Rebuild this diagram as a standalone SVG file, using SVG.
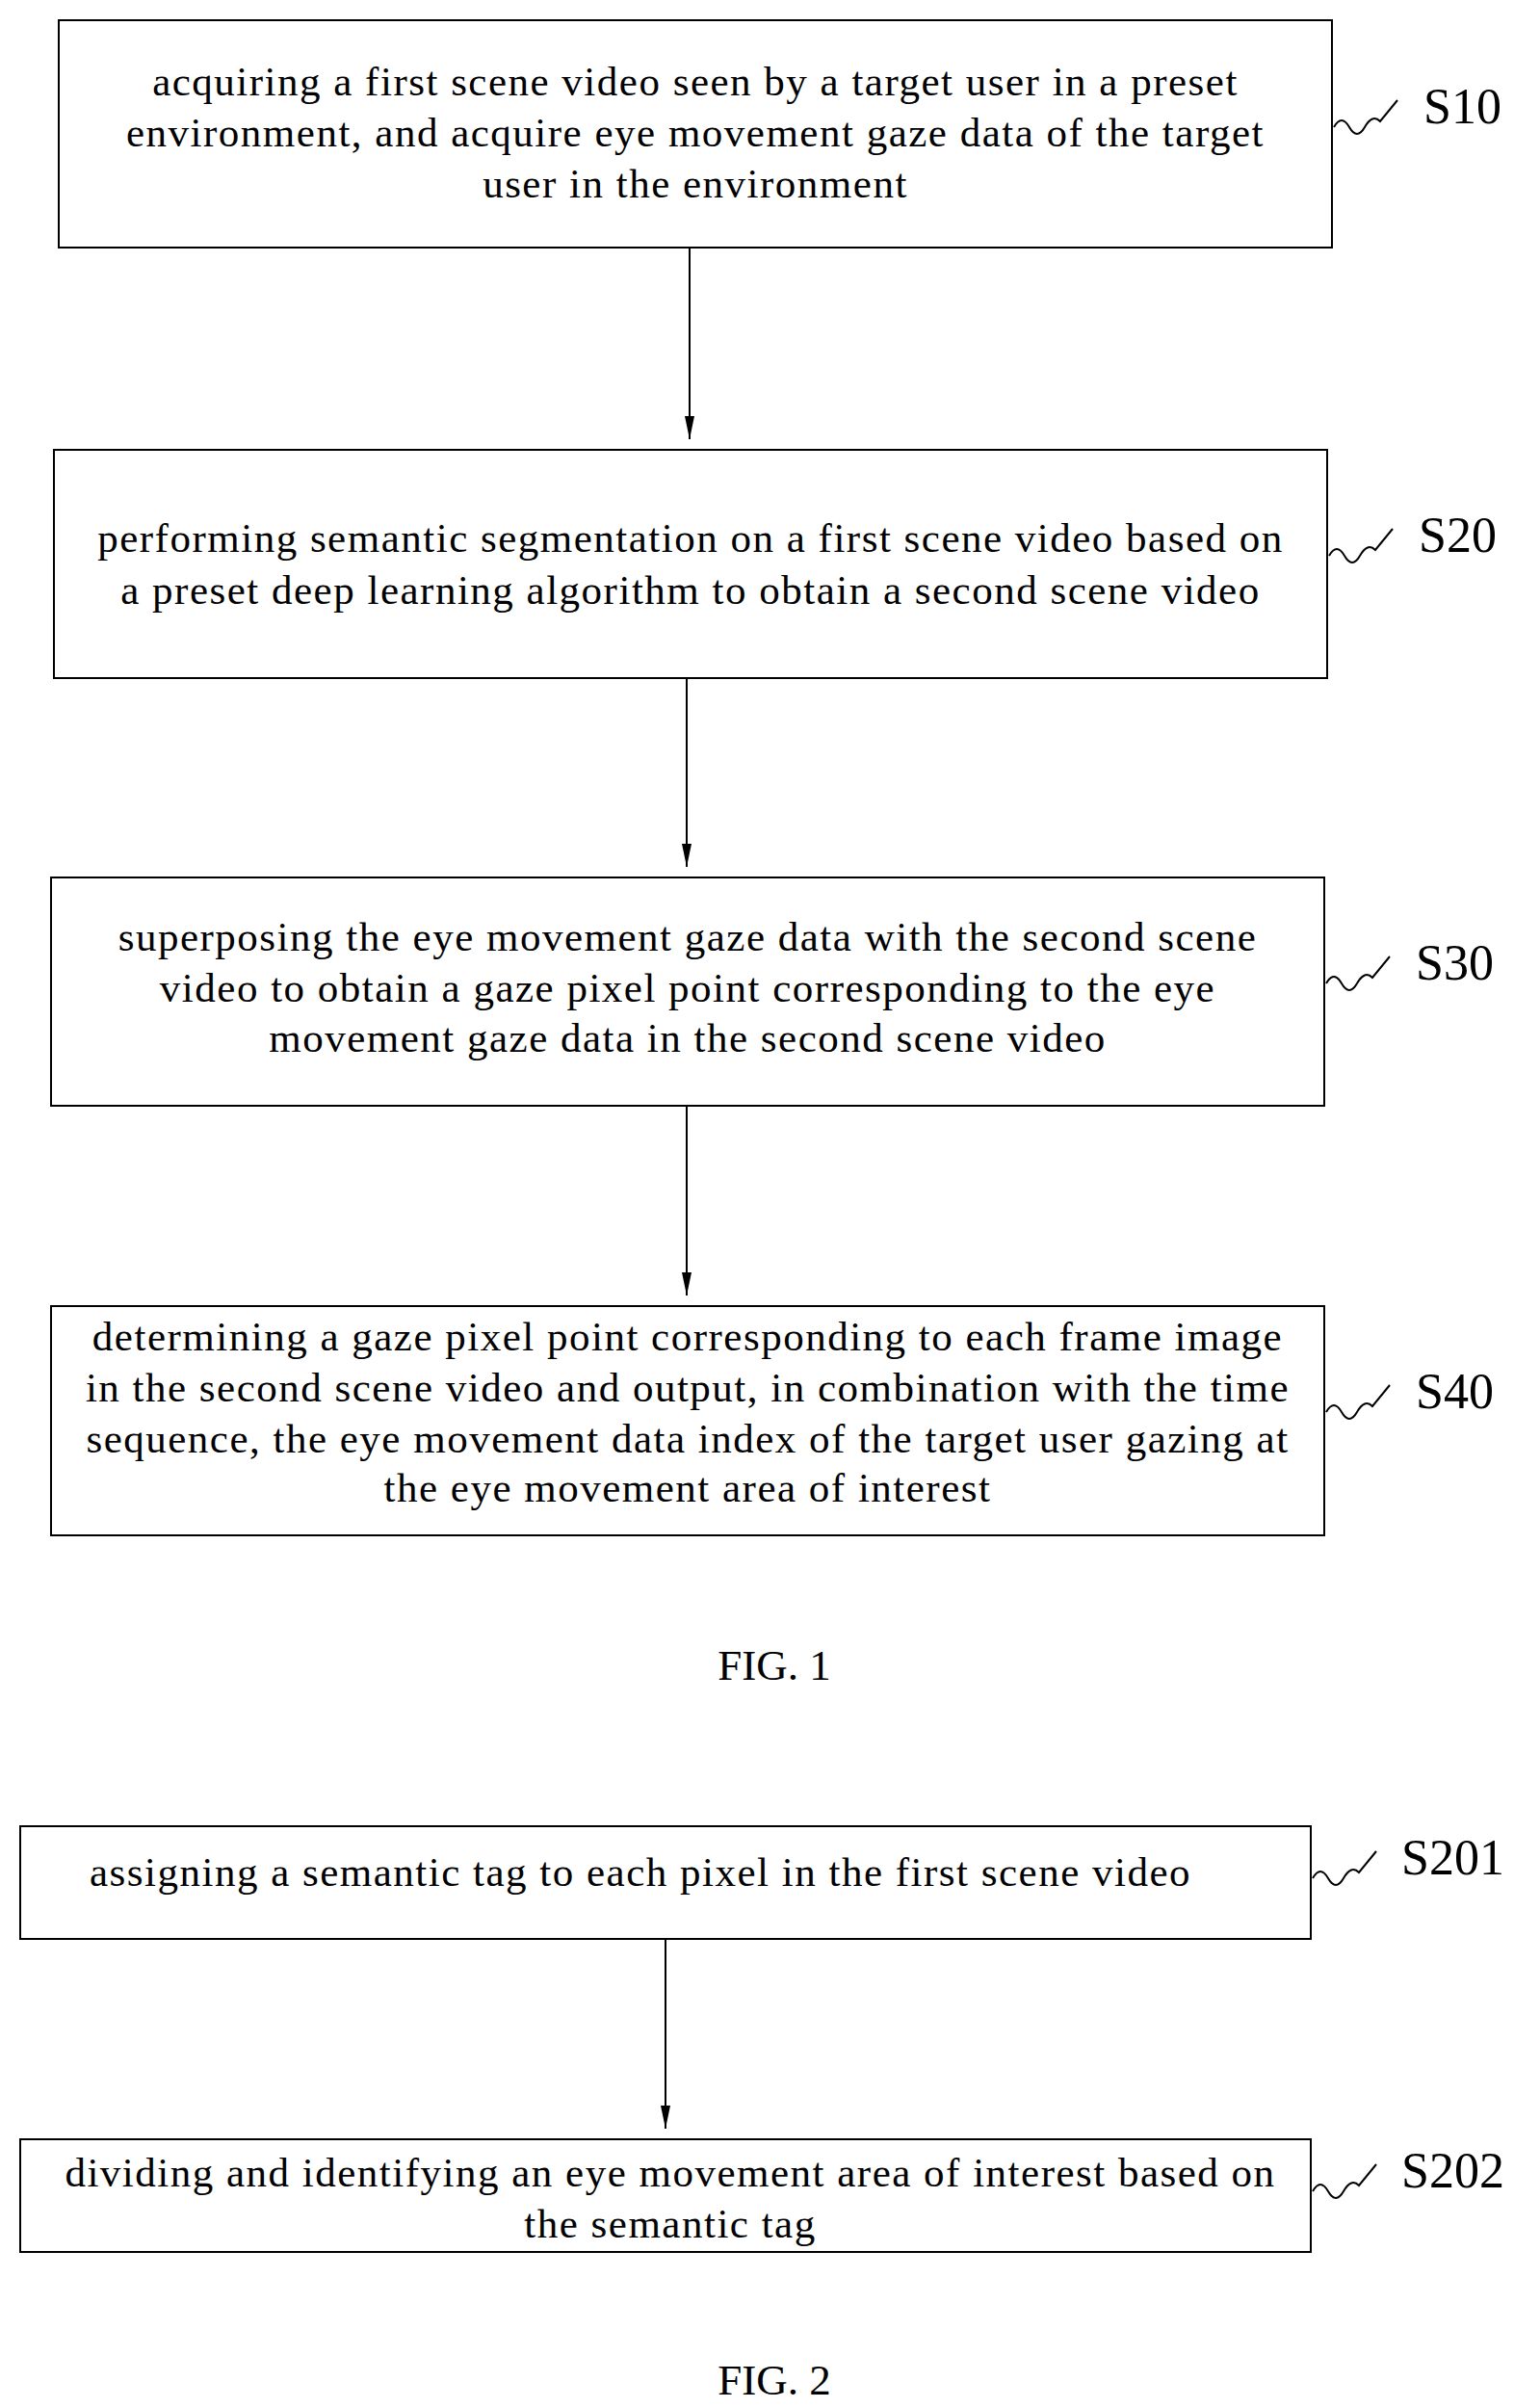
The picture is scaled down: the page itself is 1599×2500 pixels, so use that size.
<svg xmlns="http://www.w3.org/2000/svg" width="1599" height="2500" viewBox="0 0 1599 2500">
<style>
rect{fill:#fff;stroke:#000;stroke-width:2}
text{font-family:"Liberation Serif",serif;font-size:43px;letter-spacing:1.5px;fill:#000;text-anchor:middle}
.lab{font-size:52px;letter-spacing:0;text-anchor:start}
.fig{font-size:45px;letter-spacing:0}
.sq{fill:none;stroke:#000;stroke-width:2}
.c{stroke:#000;stroke-width:2;marker-end:url(#a)}
</style>
<defs><marker id="a" markerWidth="26" markerHeight="12" refX="24" refY="5" orient="auto" markerUnits="userSpaceOnUse"><path d="M0,0 L24,5 L0,10 Z" fill="#000"/></marker></defs>
<rect width="1599" height="2500" style="stroke:none"/>
<g id="S10"><rect x="61" y="21" width="1322" height="236"/>
<text x="722" y="99">acquiring a first scene video seen by a target user in a preset</text>
<text x="722" y="152">environment, and acquire eye movement gaze data of the target</text>
<text x="722" y="205">user in the environment</text>
<path class="sq" d="M1385,132 q8,-14 16,0 t16,0 t16,-6 l18,-22"/><text class="lab" x="1478" y="128">S10</text></g>
<g id="S20"><rect x="56" y="467" width="1322" height="237"/>
<text x="717" y="573">performing semantic segmentation on a first scene video based on</text>
<text x="717" y="627">a preset deep learning algorithm to obtain a second scene video</text>
<path class="sq" d="M1380,577 q8,-14 16,0 t16,0 t16,-6 l18,-22"/><text class="lab" x="1473" y="573">S20</text></g>
<g id="S30"><rect x="53" y="911" width="1322" height="237"/>
<text x="714" y="987">superposing the eye movement gaze data with the second scene</text>
<text x="714" y="1040">video to obtain a gaze pixel point corresponding to the eye</text>
<text x="714" y="1092">movement gaze data in the second scene video</text>
<path class="sq" d="M1377,1021 q8,-14 16,0 t16,0 t16,-6 l18,-22"/><text class="lab" x="1470" y="1017">S30</text></g>
<g id="S40"><rect x="53" y="1356" width="1322" height="238"/>
<text x="714" y="1402">determining a gaze pixel point corresponding to each frame image</text>
<text x="714" y="1455">in the second scene video and output, in combination with the time</text>
<text x="714" y="1508">sequence, the eye movement data index of the target user gazing at</text>
<text x="714" y="1559">the eye movement area of interest</text>
<path class="sq" d="M1377,1466 q8,-14 16,0 t16,0 t16,-6 l18,-22"/><text class="lab" x="1470" y="1462">S40</text></g>
<text class="fig" x="804" y="1744">FIG. 1</text>
<g id="S201"><rect x="21" y="1896" width="1340" height="117"/>
<text x="665" y="1958">assigning a semantic tag to each pixel in the first scene video</text>
<path class="sq" d="M1363,1950 q8,-14 16,0 t16,0 t16,-6 l18,-22"/><text class="lab" x="1455" y="1946">S201</text></g>
<g id="S202"><rect x="21" y="2221" width="1340" height="117"/>
<text x="696" y="2270">dividing and identifying an eye movement area of interest based on</text>
<text x="696" y="2323">the semantic tag</text>
<path class="sq" d="M1363,2275 q8,-14 16,0 t16,0 t16,-6 l18,-22"/><text class="lab" x="1455" y="2271">S202</text></g>
<text class="fig" x="804" y="2486">FIG. 2</text>
<g id="connectors">
<line class="c" x1="716" y1="257" x2="716" y2="456"/>
<line class="c" x1="713" y1="704" x2="713" y2="900"/>
<line class="c" x1="713" y1="1148" x2="713" y2="1345"/>
<line class="c" x1="691" y1="2013" x2="691" y2="2210"/>
</g>
</svg>
